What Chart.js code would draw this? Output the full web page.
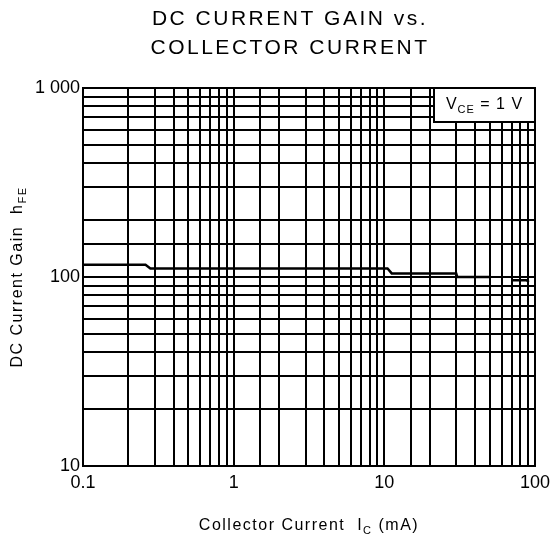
<!DOCTYPE html>
<html>
<head>
<meta charset="utf-8">
<script src="https://cdn.jsdelivr.net/npm/chart.js@4"></script>
<style>
  body { margin: 0; background: #fff; }
  #wrap { width: 556px; height: 545px; }
</style>
</head>
<body>
<div id="wrap"><canvas id="chart"></canvas></div>
<script>
// values (Vce = 1 V)
const collectorCurrent = [0.1, 0.26, 0.28, 10.5, 11.2, 30, 30.5, 50, 60, 70, 88, 91];
const currentGain = [116, 116, 111, 111, 104.5, 104.5, 100, 100, null, 96, 96, 94];

const xTickLabels = { 0.1: '0.1', 1: '1', 10: '10', 100: '100' };
const yTickLabels = { 10: '10', 100: '100', 1000: '1 000' };

const titleLines = ['DC CURRENT GAIN vs.', 'COLLECTOR CURRENT'];
const conditionText = ['V', 'CE', ' = 1 V'];

const FONT = '"Liberation Sans", Arial, sans-serif';

function decadeLabel(map, v) {
    const e = Math.log10(v);
    if (Math.abs(e - Math.round(e)) < 1e-6) {
        return map[Math.pow(10, Math.round(e))] || '';
    }
    return '';
}

// draws text pieces, every second piece as a subscript
function drawWithSub(ctx, parts, x, y, size, align) {
    const big = size + 'px ' + FONT;
    const small = Math.round(size * 0.7) + 'px ' + FONT;
    let total = 0;
    parts.forEach((p, i) => {
        ctx.font = i % 2 ? small : big;
        total += ctx.measureText(p).width;
    });
    let cx = align === 'center' ? x - total / 2 : x;
    ctx.textAlign = 'left';
    parts.forEach((p, i) => {
        ctx.font = i % 2 ? small : big;
        ctx.fillText(p, cx, i % 2 ? y + size * 0.3 : y);
        cx += ctx.measureText(p).width;
    });
}

const textPlugin = {
    id: 'textPlugin',
    afterDraw(chart) {
        const ctx = chart.ctx;
        const area = chart.chartArea;
        ctx.save();
        ctx.fillStyle = '#000';
        ctx.textBaseline = 'middle';

        // title
        ctx.letterSpacing = '2.5px';
        ctx.font = '21px ' + FONT;
        ctx.textAlign = 'center';
        ctx.fillText(titleLines[0], 290, 19);
        ctx.fillText(titleLines[1], 290, 48);

        // x axis title
        ctx.letterSpacing = '1.5px';
        const midX = (area.left + area.right) / 2;
        drawWithSub(ctx, ['Collector Current  I', 'C', ' (mA)'], midX, 526, 16, 'center');

        // y axis title
        ctx.save();
        ctx.translate(18, (area.top + area.bottom) / 2);
        ctx.rotate(-Math.PI / 2);
        drawWithSub(ctx, ['DC Current Gain  h', 'FE'], 0, 0, 16, 'center');
        ctx.restore();

        // condition box
        ctx.letterSpacing = '1px';
        const bx = 434, by = area.top, bw = area.right - 434, bh = 34;
        ctx.fillStyle = '#fff';
        ctx.fillRect(bx, by, bw, bh);
        ctx.strokeStyle = '#000';
        ctx.lineWidth = 2;
        ctx.strokeRect(bx, by, bw, bh);
        ctx.fillStyle = '#000';
        drawWithSub(ctx, conditionText, bx + bw / 2, by + bh / 2, 16, 'center');
        ctx.restore();
    }
};

new Chart(document.getElementById('chart'), {
    type: 'line',
    data: {
        datasets: [{
            data: collectorCurrent.map((x, i) => ({ x: x, y: currentGain[i] })),
            borderColor: '#000',
            borderWidth: 2.5,
            pointRadius: 0,
            spanGaps: false,
            tension: 0
        }]
    },
    options: {
        responsive: true,
        maintainAspectRatio: false,
        animation: false,
        layout: { padding: { top: 88, right: 19, left: 0, bottom: 0 } },
        plugins: {
            legend: { display: false },
            title: { display: false },
            tooltip: { enabled: false }
        },
        scales: {
            x: {
                type: 'logarithmic',
                min: 0.1,
                max: 100,
                grid: { color: '#000', lineWidth: 2, drawTicks: false },
                border: { color: '#000', width: 2 },
                ticks: {
                    autoSkip: false,
                    maxRotation: 0,
                    padding: 6,
                    color: '#000',
                    font: { family: FONT, size: 18 },
                    callback: v => decadeLabel(xTickLabels, v)
                },
                afterFit(scale) { scale.height = 79; }
            },
            y: {
                type: 'logarithmic',
                min: 10,
                max: 1000,
                grid: { color: '#000', lineWidth: 2, drawTicks: false },
                border: { color: '#000', width: 2 },
                ticks: {
                    autoSkip: false,
                    padding: 3,
                    color: '#000',
                    font: { family: FONT, size: 18 },
                    callback: v => decadeLabel(yTickLabels, v)
                },
                afterFit(scale) { scale.width = 83; }
            }
        }
    },
    plugins: [textPlugin]
});
</script>
</body>
</html>
